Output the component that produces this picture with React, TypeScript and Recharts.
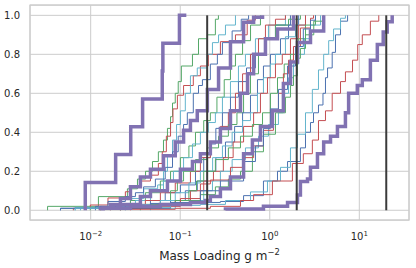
import React from 'react';
import { LineChart, Line, XAxis, YAxis, CartesianGrid, ReferenceArea } from 'recharts';

type P = [number, number];

const xTicks = [0.01, 0.1, 1, 10];
const xTickExp = ['\u22122', '\u22121', '0', '1'];
const yTicks = [0, 0.2, 0.4, 0.6, 0.8, 1.0];
const thresholds = [0.2, 2, 20];
const X_MIN = 0.0021;
const X_MAX = 35.9;
const Y_MIN = -0.05;
const Y_MAX = 1.053;

const green1: P[] = [[0.0033,0],[0.0033,0.02],[0.0122,0.07],[0.0257,0.11],[0.0333,0.16],[0.041,0.2],[0.049,0.25],[0.057,0.3],[0.065,0.36],[0.072,0.42],[0.078,0.48],[0.082,0.55],[0.088,0.6],[0.095,0.66],[0.103,0.74],[0.137,0.8],[0.16,0.88],[0.201,0.9],[0.247,0.98],[0.267,1]];
const red1: P[] = [[0.0064,0],[0.0064,0.01],[0.0099,0.027],[0.0156,0.063],[0.0244,0.095],[0.0278,0.12],[0.0359,0.15],[0.0465,0.18],[0.057,0.24],[0.063,0.3],[0.07,0.38],[0.078,0.45],[0.083,0.52],[0.093,0.59],[0.109,0.64],[0.14,0.69],[0.168,0.74],[0.206,0.8],[0.281,0.865],[0.414,0.9],[0.56,0.975],[0.69,1]];
const cyan1: P[] = [[0.0067,0],[0.0067,0.015],[0.0166,0.03],[0.0278,0.06],[0.039,0.11],[0.056,0.13],[0.065,0.2],[0.072,0.28],[0.082,0.36],[0.091,0.44],[0.1005,0.51],[0.114,0.6],[0.13,0.69],[0.155,0.73],[0.201,0.8],[0.229,0.86],[0.268,0.9],[0.32,0.95],[0.414,1]];
const blue1: P[] = [[0.0046,0],[0.0046,0.01],[0.0113,0.02],[0.0156,0.045],[0.0244,0.07],[0.0316,0.09],[0.039,0.12],[0.0528,0.16],[0.068,0.22],[0.082,0.3],[0.095,0.38],[0.109,0.44],[0.12,0.5],[0.14,0.6],[0.16,0.64],[0.177,0.67],[0.217,0.75],[0.26,0.8],[0.296,0.86],[0.38,0.92],[0.48,0.98],[0.58,1]];
const green2: P[] = [[0.0099,0],[0.0099,0.01],[0.0189,0.03],[0.0278,0.05],[0.0408,0.09],[0.06,0.15],[0.078,0.2],[0.1005,0.27],[0.125,0.33],[0.148,0.4],[0.183,0.46],[0.217,0.5],[0.257,0.58],[0.31,0.67],[0.364,0.74],[0.414,0.8],[0.497,0.87],[0.61,0.95],[0.787,1]];
const cyan2: P[] = [[0.0077,0],[0.0077,0.01],[0.0166,0.025],[0.0316,0.05],[0.0465,0.1],[0.065,0.15],[0.084,0.2],[0.109,0.27],[0.137,0.34],[0.168,0.4],[0.206,0.45],[0.247,0.5],[0.296,0.58],[0.364,0.66],[0.447,0.74],[0.535,0.8],[0.692,0.88],[0.967,0.95],[1.497,1]];
const blue2: P[] = [[0.0113,0],[0.0113,0.01],[0.0244,0.025],[0.0465,0.05],[0.068,0.09],[0.1005,0.13],[0.148,0.2],[0.183,0.27],[0.217,0.34],[0.25,0.42],[0.296,0.5],[0.364,0.58],[0.447,0.66],[0.55,0.73],[0.692,0.8],[0.895,0.88],[1.158,0.95],[1.703,1]];
const red2: P[] = [[0.0128,0],[0.0128,0.01],[0.0244,0.03],[0.0408,0.05],[0.06,0.09],[0.088,0.14],[0.13,0.2],[0.168,0.27],[0.217,0.35],[0.281,0.43],[0.345,0.5],[0.414,0.6],[0.497,0.7],[0.609,0.8],[0.748,0.88],[0.895,0.95],[1.158,0.98],[1.497,1]];
const green3: P[] = [[0.0215,0],[0.0215,0.01],[0.0408,0.03],[0.06,0.05],[0.078,0.1],[0.093,0.15],[0.109,0.2],[0.148,0.26],[0.201,0.32],[0.268,0.38],[0.345,0.44],[0.43,0.5],[0.51,0.6],[0.609,0.7],[0.748,0.8],[0.918,0.88],[1.158,0.95],[1.62,0.98],[2.2,1]];
const blue3: P[] = [[0.0244,0],[0.0244,0.01],[0.0465,0.03],[0.078,0.05],[0.114,0.1],[0.155,0.15],[0.201,0.2],[0.25,0.27],[0.32,0.35],[0.405,0.43],[0.497,0.5],[0.609,0.59],[0.729,0.67],[0.85,0.74],[1.018,0.8],[1.318,0.88],[1.62,0.95],[2.1,1]];
const cyan3: P[] = [[0.0166,0],[0.0166,0.01],[0.0359,0.03],[0.06,0.05],[0.088,0.09],[0.125,0.14],[0.168,0.2],[0.23,0.27],[0.296,0.33],[0.38,0.4],[0.497,0.46],[0.609,0.5],[0.729,0.6],[0.85,0.68],[1.018,0.75],[1.158,0.8],[1.497,0.89],[1.937,0.95],[2.506,1]];
const red3: P[] = [[0.0278,0],[0.0278,0.01],[0.0528,0.03],[0.088,0.05],[0.13,0.1],[0.183,0.15],[0.235,0.2],[0.303,0.27],[0.39,0.35],[0.51,0.43],[0.66,0.5],[0.787,0.6],[0.943,0.68],[1.158,0.75],[1.38,0.8],[1.703,0.88],[2.1,0.95],[2.506,1]];
const green4: P[] = [[0.0359,0],[0.0359,0.01],[0.06,0.03],[0.088,0.05],[0.125,0.1],[0.152,0.15],[0.183,0.2],[0.247,0.26],[0.345,0.32],[0.471,0.38],[0.64,0.44],[0.83,0.5],[1.018,0.6],[1.22,0.68],[1.45,0.75],[1.703,0.8],[2.1,0.88],[2.506,0.95],[3.24,1]];
const cyan4: P[] = [[0.0465,0],[0.0465,0.01],[0.088,0.03],[0.13,0.05],[0.183,0.1],[0.229,0.15],[0.281,0.2],[0.38,0.26],[0.535,0.32],[0.748,0.38],[0.967,0.44],[1.25,0.5],[1.42,0.6],[1.62,0.68],[1.84,0.75],[2.1,0.8],[2.44,0.88],[2.85,0.95],[3.69,1]];
const green5: P[] = [[0.0128,0],[0.0128,0.01],[0.0465,0.03],[0.1005,0.05],[0.168,0.08],[0.247,0.12],[0.345,0.16],[0.471,0.2],[0.64,0.3],[0.85,0.39],[1.158,0.5],[1.497,0.58],[1.703,0.64],[1.84,0.69],[2.04,0.78],[2.2,0.83],[2.506,0.9],[3.1,0.97],[4.0,1]];
const red4: P[] = [[0.0166,0],[0.0166,0.01],[0.0465,0.02],[0.1005,0.06],[0.168,0.135],[0.217,0.155],[0.364,0.22],[0.51,0.27],[0.66,0.33],[0.85,0.41],[1.1,0.51],[1.25,0.6],[1.42,0.7],[1.62,0.77],[1.84,0.84],[2.2,0.935],[2.85,0.985],[3.08,1]];
const blue4: P[] = [[0.0215,0],[0.0215,0.01],[0.078,0.04],[0.168,0.1],[0.281,0.15],[0.51,0.25],[0.692,0.33],[0.85,0.42],[1.018,0.52],[1.25,0.62],[1.58,0.74],[1.937,0.84],[2.37,0.93],[2.85,0.975],[3.24,1]];
const blue5: P[] = [[0.0046,0],[0.0046,0.01],[0.0128,0.02],[0.0465,0.035],[0.168,0.04],[0.281,0.045],[0.51,0.075],[0.85,0.15],[1.22,0.2],[1.58,0.25],[2.2,0.32],[2.506,0.4],[2.85,0.45],[3.08,0.5],[3.5,0.54],[3.93,0.6],[4.19,0.68],[4.42,0.73],[4.98,0.81],[5.42,0.9],[6.17,0.97],[7.4,1]];
const cyan5: P[] = [[0.0067,0],[0.0067,0.01],[0.0215,0.015],[0.078,0.025],[0.168,0.03],[0.32,0.05],[0.609,0.094],[0.943,0.15],[1.318,0.22],[1.703,0.32],[2.04,0.39],[2.506,0.5],[2.99,0.62],[3.5,0.72],[4.0,0.8],[4.55,0.87],[5.16,0.93],[6.17,0.985],[7.0,1]];
const red5: P[] = [[0.0215,0],[0.0215,0.005],[0.088,0.01],[0.217,0.02],[0.471,0.05],[0.66,0.08],[1.07,0.15],[1.79,0.24],[2.37,0.29],[2.99,0.36],[3.5,0.46],[4.19,0.51],[4.98,0.6],[6.17,0.66],[7.0,0.71],[8.4,0.77],[9.6,0.85],[10.8,0.9],[13.3,0.97],[16.5,1]];

const purpleA: P[] = [[0.0087,0],[0.0087,0.143],[0.019,0.286],[0.028,0.429],[0.038,0.571],[0.063,0.714],[0.064,0.857],[0.098,1],[0.117,1]];
const purpleB: P[] = [[0.0128,0],[0.0128,0.01],[0.0166,0.03],[0.0215,0.06],[0.0278,0.12],[0.0359,0.17],[0.0465,0.21],[0.065,0.28],[0.088,0.35],[0.109,0.41],[0.13,0.46],[0.155,0.51],[0.201,0.62],[0.268,0.73],[0.364,0.865],[0.51,0.965],[0.66,0.99],[0.83,1]];
const purpleC: P[] = [[0.0138,0],[0.0138,0.01],[0.0215,0.03],[0.0359,0.07],[0.0465,0.1],[0.072,0.15],[0.1005,0.21],[0.137,0.25],[0.168,0.29],[0.217,0.35],[0.281,0.42],[0.364,0.51],[0.471,0.6],[0.565,0.7],[0.66,0.8],[0.895,0.88],[1.22,0.93],[1.84,1]];
const purpleD: P[] = [[0.0138,0],[0.0138,0.01],[0.0278,0.02],[0.06,0.03],[0.13,0.04],[0.191,0.05],[0.217,0.07],[0.281,0.11],[0.364,0.17],[0.51,0.29],[0.64,0.36],[0.787,0.43],[1.07,0.51],[1.42,0.65],[1.703,0.76],[2.04,0.86],[2.85,0.92],[4.0,1]];
const purpleE: P[] = [[0.32,0],[0.32,0.007],[0.85,0.02],[1.58,0.04],[2.04,0.078],[2.2,0.147],[2.64,0.16],[2.85,0.22],[3.41,0.29],[4.0,0.35],[4.77,0.38],[5.7,0.43],[7.0,0.5],[7.6,0.6],[9.5,0.64],[10.8,0.67],[13.3,0.77],[15.9,0.85],[18.5,0.915],[20.5,0.967],[23.3,1]];

const GREEN = '#55A868';
const RED = '#C44E52';
const BLUE = '#4C72B0';
const CYAN = '#64B5CD';
const PURPLE = '#8172B2';
const BLACK = '#3b3b3b';
const FONT = 'DejaVu Sans';
const TEXT = '#262626';

const thin: { data: P[]; color: string }[] = [
  { data: green1, color: GREEN }, { data: red1, color: RED }, { data: cyan1, color: CYAN }, { data: blue1, color: BLUE },
  { data: green2, color: GREEN }, { data: cyan2, color: CYAN }, { data: blue2, color: BLUE }, { data: red2, color: RED },
  { data: green3, color: GREEN }, { data: blue3, color: BLUE }, { data: cyan3, color: CYAN }, { data: red3, color: RED },
  { data: green4, color: GREEN }, { data: cyan4, color: CYAN }, { data: green5, color: GREEN }, { data: red4, color: RED },
  { data: blue4, color: BLUE }, { data: blue5, color: BLUE }, { data: cyan5, color: CYAN }, { data: red5, color: RED },
];
const thick: P[][] = [purpleA, purpleB, purpleC, purpleD, purpleE];

const rows = (pts: P[]) => pts.map(([x, y]) => ({ x, y }));

const XTick = (props: any) => {
  const { x, y, payload } = props;
  const i = xTicks.indexOf(payload.value);
  return (
    <text x={x} y={y + 12} textAnchor="middle" fill={TEXT} fontSize={10} fontFamily={FONT}>
      10<tspan dy={-4.5} fontSize={7}>{xTickExp[i]}</tspan>
    </text>
  );
};

const YTick = (props: any) => {
  const { x, y, payload } = props;
  return (
    <text x={x - 2} y={y} dy={3.6} textAnchor="end" fill={TEXT} fontSize={10} fontFamily={FONT}>
      {payload.value.toFixed(1)}
    </text>
  );
};

const XLabel = (props: any) => {
  const vb = props.viewBox || {};
  return (
    <text x={vb.x + vb.width / 2} y={vb.y + 40} textAnchor="middle" fill={TEXT} fontSize={12} fontFamily={FONT}>
      Mass Loading g m<tspan dy={-5} fontSize={8.4}>{'\u22122'}</tspan>
    </text>
  );
};

export default function App() {
  return (
    <div style={{ position: 'absolute', left: 0, top: 0, background: '#fff' }}>
      <LineChart width={416} height={268} margin={{ top: 5, right: 7, left: 0, bottom: 0 }}>
        <CartesianGrid stroke="#cccccc" strokeWidth={1} />
        <XAxis
          type="number"
          dataKey="x"
          scale="log"
          domain={[X_MIN, X_MAX]}
          allowDataOverflow
          ticks={xTicks}
          tick={<XTick />}
          tickLine={false}
          axisLine={false}
          height={48}
          label={<XLabel />}
        />
        <YAxis
          type="number"
          dataKey="y"
          domain={[Y_MIN, Y_MAX]}
          allowDataOverflow
          ticks={yTicks}
          tick={<YTick />}
          tickLine={false}
          axisLine={false}
          width={30}
        />
        <ReferenceArea x1={X_MIN} x2={X_MAX} y1={Y_MIN} y2={Y_MAX} fill="none" stroke="#cccccc" strokeWidth={1.25} ifOverflow="visible" />
        {thin.map((s, i) => (
          <Line key={'t' + i} data={rows(s.data)} dataKey="y" type="stepAfter" stroke={s.color} strokeWidth={1} dot={false} activeDot={false} isAnimationActive={false} />
        ))}
        {thick.map((d, i) => (
          <Line key={'p' + i} data={rows(d)} dataKey="y" type="stepAfter" stroke={PURPLE} strokeWidth={3.5} dot={false} activeDot={false} isAnimationActive={false} />
        ))}
        {thresholds.map((t, i) => (
          <Line key={'k' + i} data={[{ x: t, y: 0 }, { x: t, y: 1 }]} dataKey="y" type="linear" stroke={BLACK} strokeWidth={2} dot={false} activeDot={false} isAnimationActive={false} />
        ))}
      </LineChart>
    </div>
  );
}
